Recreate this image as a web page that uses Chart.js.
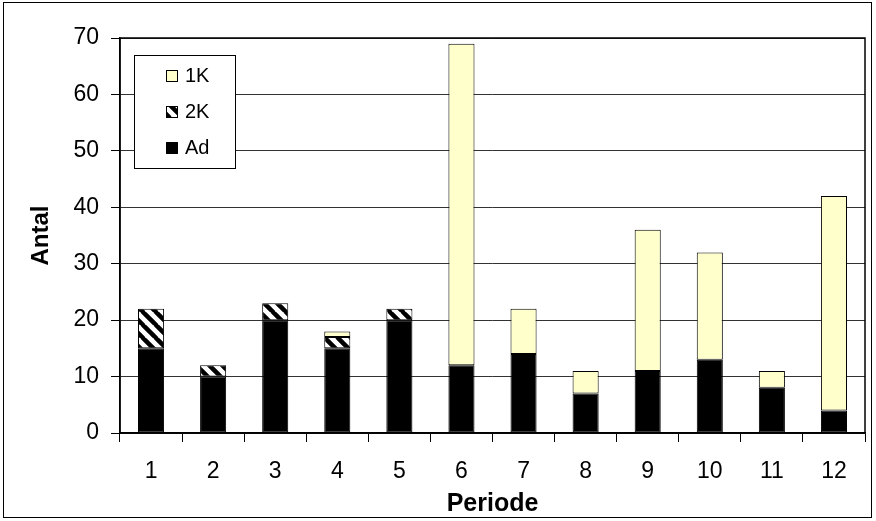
<!DOCTYPE html>
<html>
<head>
<meta charset="utf-8">
<script src="https://cdn.jsdelivr.net/npm/chart.js@4"></script>
<style>
  html, body { margin: 0; padding: 0; background: #fff; }
  #wrap { width: 876px; height: 521px; }
</style>
</head>
<body>
<div id="wrap"><canvas id="periodChart" width="876" height="521"></canvas></div>
<script>
const periods = ['1', '2', '3', '4', '5', '6', '7', '8', '9', '10', '11', '12'];
const adValues = [15, 10, 20, 15, 20, 12, 14, 7, 11, 13, 8, 4];
const k2Values = [7, 2, 3, 2, 2, 0, 0, 0, 0, 0, 0, 0];
const k1Values = [0, 0, 0, 1, 0, 57, 8, 4, 25, 19, 3, 38];
const yTicks = [0, 10, 20, 30, 40, 50, 60, 70];

const FONT = '"Liberation Sans", Arial, sans-serif';

function makeHatch() {
    const s = 13;
    const c = document.createElement('canvas');
    c.width = s;
    c.height = s;
    const g = c.getContext('2d');
    g.fillStyle = '#fff';
    g.fillRect(0, 0, s, s);
    g.strokeStyle = '#000';
    g.lineWidth = 4.5;
    g.beginPath();
    for (let k = -s; k <= s; k += s) {
        g.moveTo(k - 1, -1);
        g.lineTo(k + s + 1, s + 1);
    }
    g.stroke();
    return g.createPattern(c, 'repeat');
}

const ctx = document.getElementById('periodChart').getContext('2d');
const hatch = makeHatch();

// white page with the thin outer frame
const frame = {
    id: 'frame',
    beforeDraw(chart) {
        const c = chart.ctx;
        c.save();
        c.fillStyle = '#fff';
        c.fillRect(0, 0, chart.width, chart.height);
        c.strokeStyle = '#000';
        c.lineWidth = 1;
        c.strokeRect(3.5, 2.5, 868, 515);
        c.restore();
    },
    afterDatasetsDraw(chart) {
        const a = chart.chartArea;
        const c = chart.ctx;
        c.save();
        c.strokeStyle = '#000';
        c.lineWidth = 1.5;
        c.strokeRect(a.left, a.top, a.right - a.left, a.bottom - a.top);
        c.restore();
    }
};

// legend box drawn inside plot area, reversed order like the original
const boxLegend = {
    id: 'boxLegend',
    afterDraw(chart) {
        const c = chart.ctx;
        const x = 134, y = 55, w = 101, h = 113;
        c.save();
        c.fillStyle = '#fff';
        c.fillRect(x, y, w, h);
        c.strokeStyle = '#000';
        c.lineWidth = 1;
        c.strokeRect(x + 0.5, y + 0.5, w, h);
        const sets = chart.data.datasets.slice().reverse();
        c.font = '20px ' + FONT;
        c.textBaseline = 'middle';
        sets.forEach((ds, i) => {
            const cy = y + 21 + i * 36;
            c.fillStyle = ds.backgroundColor;
            c.fillRect(166, cy - 6, 12, 12);
            c.strokeStyle = '#000';
            c.lineWidth = 1;
            c.strokeRect(166.5, cy - 5.5, 11, 11);
            c.fillStyle = '#000';
            c.fillText(ds.label, 185, cy);
        });
        c.restore();
    }
};

new Chart(ctx, {
    type: 'bar',
    data: {
        labels: periods,
        datasets: [
            { label: 'Ad', data: adValues, backgroundColor: '#000000' },
            { label: '2K', data: k2Values, backgroundColor: hatch },
            { label: '1K', data: k1Values, backgroundColor: '#FFFFCC' }
        ].map(d => Object.assign(d, {
            borderColor: '#000',
            borderWidth: 1,
            borderSkipped: false,
            barPercentage: 0.42,
            categoryPercentage: 1.0
        }))
    },
    options: {
        responsive: false,
        animation: false,
        layout: { padding: { top: 38, right: 11, left: 0, bottom: 0 } },
        plugins: {
            legend: { display: false },
            tooltip: { enabled: false }
        },
        scales: {
            x: {
                stacked: true,
                offset: true,
                grid: {
                    offset: true,
                    drawOnChartArea: false,
                    color: '#000',
                    tickLength: 9,
                    tickColor: '#000'
                },
                border: { color: '#000', width: 1.5 },
                ticks: {
                    color: '#000',
                    font: { family: FONT, size: 23 },
                    padding: 16,
                    maxRotation: 0
                },
                title: {
                    display: true,
                    text: 'Periode',
                    color: '#000',
                    font: { family: FONT, size: 25, weight: 'bold' },
                    padding: { top: 0, bottom: 2 }
                },
                afterFit(scale) { scale.height = 88; }
            },
            y: {
                stacked: true,
                min: 0,
                max: 70,
                afterBuildTicks(scale) {
                    scale.ticks = yTicks.map(v => ({ value: v }));
                },
                grid: {
                    color: '#333',
                    lineWidth: 1,
                    tickLength: 9,
                    tickColor: '#000'
                },
                border: { color: '#000', width: 1.5 },
                ticks: {
                    color: '#000',
                    font: { family: FONT, size: 23 },
                    padding: 12
                },
                title: {
                    display: true,
                    text: 'Antal',
                    color: '#000',
                    font: { family: FONT, size: 24, weight: 'bold' },
                    padding: { top: 27, bottom: 0 }
                },
                afterFit(scale) { scale.width = 120; }
            }
        }
    },
    plugins: [frame, boxLegend]
});
</script>
</body>
</html>
